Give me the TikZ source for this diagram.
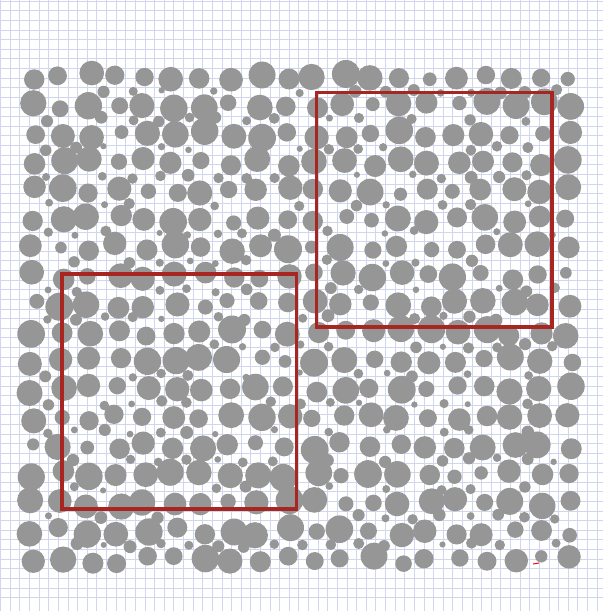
\documentclass[tikz,border=0pt]{standalone}
\begin{document}
\begin{tikzpicture}[x=1pt,y=1pt,
  gridline/.style={draw=gridblue,line width=0.5pt},
  grain/.style={fill=graingray},
  roi/.style={draw=roired,line width=3.4pt}]
\definecolor{gridblue}{RGB}{208,214,236}
\definecolor{graingray}{RGB}{150,150,150}
\definecolor{roired}{RGB}{168,38,34}
\useasboundingbox (0,0) rectangle (603,-611);
\fill[white] (0,0) rectangle (603,-611);
% grid paper
\foreach \k in {0,...,62} {
  \draw[gridline] ({0.5+\k*9.62},0) -- ({0.5+\k*9.62},-611);
  \draw[gridline] (0,{-1-\k*9.62}) -- (603,{-1-\k*9.62});
}
\pgfmathsetseed{4242}
% main grains on jittered lattice
\foreach \i in {0,...,19} {
  \foreach \j in {0,...,17} {
    \pgfmathsetmacro{\gx}{33+\i*28.2+4*rand}
    \pgfmathsetmacro{\gy}{77+\j*28.4+4*rand}
    \pgfmathsetmacro{\gr}{5.5+8.5*sqrt(rnd)}
    \fill[grain] (\gx,-\gy) circle (\gr);
  }
}
% small grains in the gaps
\foreach \i in {0,...,18} {
  \foreach \j in {0,...,16} {
    \pgfmathsetmacro{\p}{rnd}
    \pgfmathsetmacro{\gx}{47+\i*28.2+2.5*rand}
    \pgfmathsetmacro{\gy}{91+\j*28.4+2.5*rand}
    \pgfmathsetmacro{\gr}{3+3.5*rnd}
    \ifdim\p pt<0.65pt
      \fill[grain] (\gx,-\gy) circle (\gr);
    \fi
  }
}
% regions of interest
\node[coordinate] (a1) at (316.5,-92.5) {};
\node[coordinate] (b1) at (552,-327) {};
\node[coordinate] (a2) at (62,-274) {};
\node[coordinate] (b2) at (296.5,-509) {};
\draw[roi] (a1) rectangle (b1);
\draw[roi] (a2) rectangle (b2);
% small red mark
\coordinate (m1) at (533,-564);
\coordinate (m2) at (539,-563);
\draw[red,line width=1pt] (m1) -- (m2);
\end{tikzpicture}
\end{document}
